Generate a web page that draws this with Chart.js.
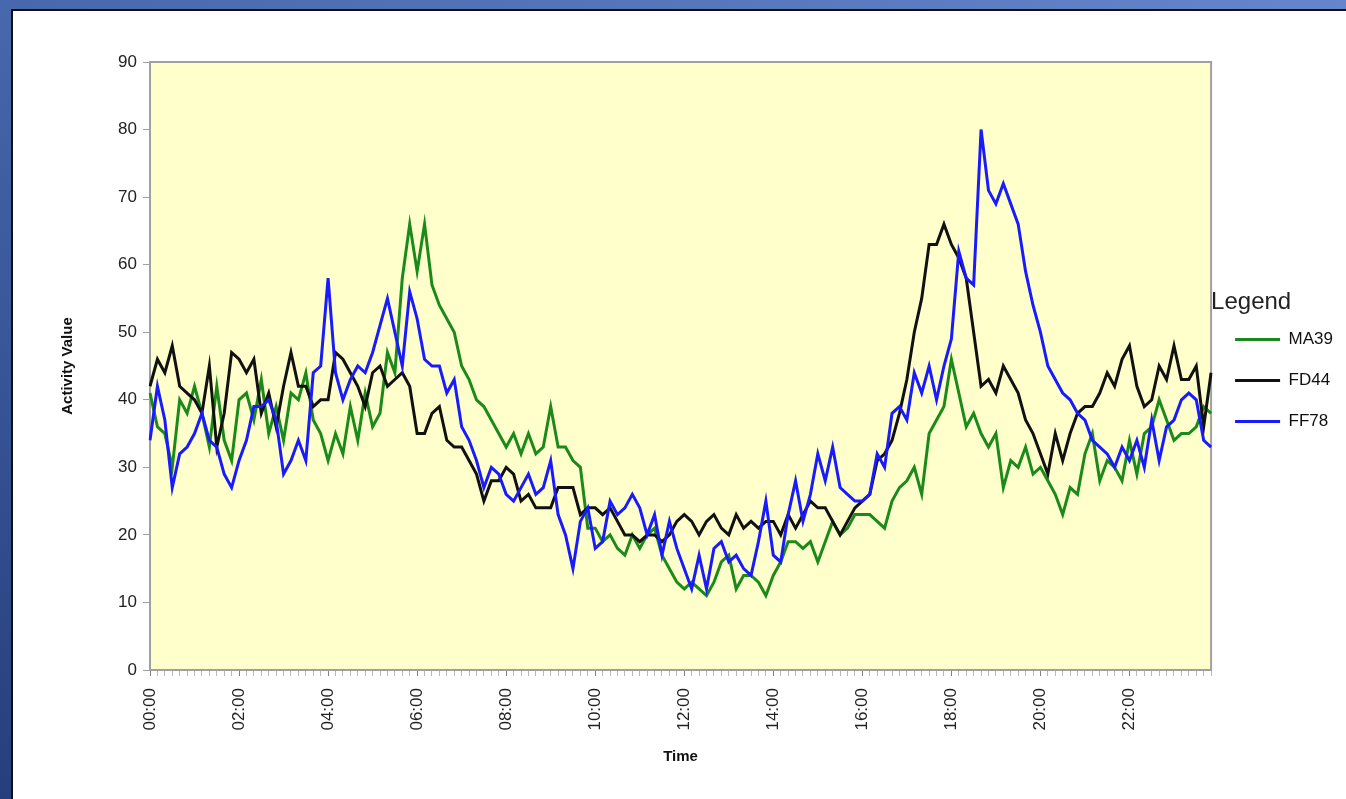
<!DOCTYPE html>
<html>
<head>
<meta charset="utf-8">
<title>Activity Value</title>
<script src="https://cdn.jsdelivr.net/npm/chart.js@4.4.1/dist/chart.umd.min.js"></script>
<style>
  html, body { margin: 0; padding: 0; }
  body {
    width: 1346px; height: 799px; overflow: hidden; position: relative;
    background: linear-gradient(200deg, #6585cc 0%, #4363a8 45%, #263f7c 100%);
  }
  #panel {
    position: absolute; left: 11px; top: 9px; width: 1350px; height: 800px;
    background: #fff; border: 2px solid #111;
  }
  #chart { position: absolute; left: 1px; top: 1px; }
</style>
</head>
<body>
<div id="panel"><canvas id="chart" width="1332" height="787"></canvas></div>
<script>
// 10 minute samples, 00:00 .. 23:50
const times = [];
for (let h = 0; h < 24; h++) {
  for (let m = 0; m < 60; m += 10) {
    times.push(String(h).padStart(2, '0') + ':' + String(m).padStart(2, '0'));
  }
}
const tickLabels = ['00:00', '02:00', '04:00', '06:00', '08:00', '10:00',
                    '12:00', '14:00', '16:00', '18:00', '20:00', '22:00'];
const yTicks = [0, 10, 20, 30, 40, 50, 60, 70, 80, 90];

const ma39 = [
  41,36,35,30,40,38,42,38,33,42,34,31,
  40,41,37,43,35,39,34,41,40,44,37,35,
  31,35,32,39,34,41,36,38,47,44,58,66,
  59,66,57,54,52,50,45,43,40,39,37,35,
  33,35,32,35,32,33,39,33,33,31,30,21,
  21,19,20,18,17,20,18,20,21,17,15,13,
  12,13,12,11,13,16,17,12,14,14,13,11,
  14,16,19,19,18,19,16,19,22,20,21,23,
  23,23,22,21,25,27,28,30,26,35,37,39,
  46,41,36,38,35,33,35,27,31,30,33,29,
  30,28,26,23,27,26,32,35,28,31,30,28,
  34,29,35,36,40,37,34,35,35,36,39,38
];
const fd44 = [
  42,46,44,48,42,41,40,38,45,33,38,47,
  46,44,46,38,41,36,42,47,42,42,39,40,
  40,47,46,44,42,39,44,45,42,43,44,42,
  35,35,38,39,34,33,33,31,29,25,28,28,
  30,29,25,26,24,24,24,27,27,27,23,24,
  24,23,24,22,20,20,19,20,20,19,20,22,
  23,22,20,22,23,21,20,23,21,22,21,22,
  22,20,23,21,23,25,24,24,22,20,22,24,
  25,26,31,32,34,38,43,50,55,63,63,66,
  63,61,58,50,42,43,41,45,43,41,37,35,
  32,29,35,31,35,38,39,39,41,44,42,46,
  48,42,39,40,45,43,48,43,43,45,36,44
];
const ff78 = [
  34,42,37,27,32,33,35,38,34,33,29,27,
  31,34,39,39,40,37,29,31,34,31,44,45,
  58,44,40,43,45,44,47,51,55,50,45,56,
  52,46,45,45,41,43,36,34,31,27,30,29,
  26,25,27,29,26,27,31,23,20,15,22,24,
  18,19,25,23,24,26,24,20,23,17,22,18,
  15,12,17,12,18,19,16,17,15,14,19,25,
  17,16,23,28,22,26,32,28,33,27,26,25,
  25,26,32,30,38,39,37,44,41,45,40,45,
  49,62,58,57,80,71,69,72,69,66,59,54,
  50,45,43,41,40,38,37,34,33,32,30,33,
  31,34,30,37,31,36,37,40,41,40,34,33
];

const FONT = "'Liberation Sans', Arial, sans-serif";

// yellow plot area with a grey frame
const plotFrame = {
  id: 'plotFrame',
  beforeDraw(chart) {
    const { ctx, chartArea: a } = chart;
    ctx.save();
    ctx.fillStyle = '#ffffcc';
    ctx.fillRect(a.left, a.top, a.right - a.left, a.bottom - a.top);
    ctx.strokeStyle = '#a0a0a0';
    ctx.lineWidth = 2;
    ctx.strokeRect(a.left, a.top, a.right - a.left, a.bottom - a.top);
    ctx.restore();
  }
};

new Chart(document.getElementById('chart'), {
  type: 'line',
  data: {
    labels: times,
    datasets: [
      { label: 'MA39', data: ma39, borderColor: '#1b8a1b', backgroundColor: '#1b8a1b', borderWidth: 3, order: 2 },
      { label: 'FD44', data: fd44, borderColor: '#111111', backgroundColor: '#111111', borderWidth: 3, order: 1 },
      { label: 'FF78', data: ff78, borderColor: '#1a1aff', backgroundColor: '#1a1aff', borderWidth: 3, order: 0 }
    ]
  },
  options: {
    responsive: false,
    animation: false,
    events: [],
    layout: { padding: { top: 50, right: 3, left: 0, bottom: 0 } },
    elements: {
      point: { radius: 0 },
      line: { tension: 0 }
    },
    scales: {
      x: {
        grid: {
          drawOnChartArea: false, tickLength: 6,
          color: ctx => (ctx.index % 12 === 0 ? '#808080' : '#b8b8b8')
        },
        border: { color: '#a0a0a0', width: 2 },
        ticks: {
          autoSkip: false, minRotation: 90, maxRotation: 90, padding: 12,
          color: '#222', font: { family: FONT, size: 17 },
          callback: function (v, i) {
            const t = times[i];
            return tickLabels.includes(t) ? t : '';
          }
        },
        title: {
          display: true, text: 'Time', color: '#111',
          font: { family: FONT, size: 15, weight: 'bold' },
          padding: { top: 0, bottom: 33 }
        },
        afterFit: s => { s.height = 129; }
      },
      y: {
        min: 0, max: 90,
        afterBuildTicks: s => { s.ticks = yTicks.map(v => ({ value: v })); },
        grid: { drawOnChartArea: false, tickLength: 7, color: '#a0a0a0' },
        border: { color: '#a0a0a0', width: 2 },
        ticks: { padding: 6, color: '#222', font: { family: FONT, size: 17 } },
        title: {
          display: true, text: 'Activity Value', color: '#111',
          font: { family: FONT, size: 15, weight: 'bold' },
          padding: { top: 45, bottom: 0 }
        },
        afterFit: s => { s.width = 136; }
      }
    },
    plugins: {
      tooltip: { enabled: false },
      legend: {
        position: 'right',
        fullSize: false,
        title: {
          display: true, text: 'Legend', position: 'start', color: '#222',
          font: { family: FONT, size: 24 }, padding: { top: 12, bottom: -12 }
        },
        labels: {
          usePointStyle: true, pointStyle: 'line', pointStyleWidth: 45,
          padding: 24, color: '#111', font: { family: FONT, size: 17 },
          sort: (a, b) => a.datasetIndex - b.datasetIndex
        }
      }
    }
  },
  plugins: [plotFrame]
});
</script>
</body>
</html>
